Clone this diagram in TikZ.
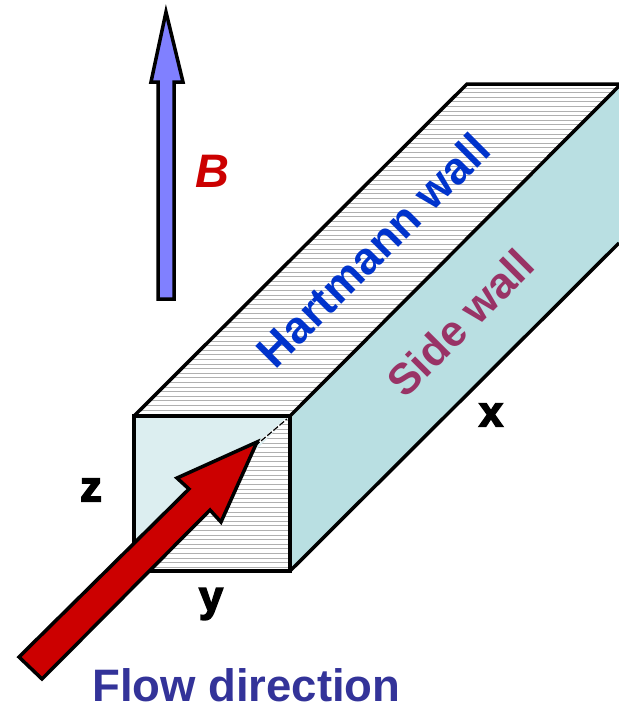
\documentclass[tikz,border=0pt]{standalone}
\usepackage{fontspec}
\setmainfont{Liberation Sans}
\newfontfamily\heavyfont{Liberation Sans}[BoldFeatures={FakeBold=4}]
\definecolor{sidec}{HTML}{B9DFE2}
\definecolor{lightc}{HTML}{DCEEF0}
\definecolor{hatch}{HTML}{B0B0B0}
\definecolor{bluearrow}{HTML}{8080FF}
\definecolor{redc}{HTML}{CC0000}
\definecolor{hartc}{HTML}{0033CC}
\definecolor{sidet}{HTML}{993366}
\definecolor{flowc}{HTML}{333399}
\tikzset{
  edge/.style={draw=black,line width=3.5pt,line join=miter},
  hatchline/.style={draw=hatch,line width=1pt},
  lab/.style={font=\heavyfont\fontsize{43}{43}\selectfont\bfseries,text=black,inner sep=0pt},
  walltext/.style={font=\bfseries,inner sep=0pt,rotate=45,anchor=center}
}
\begin{document}
\begin{tikzpicture}[x=1pt,y=-1pt]
\useasboundingbox (0,0) rectangle (619,705);
% side wall
\fill[sidec] (290,416) -- (619,86) -- (619,243) -- (290,571) -- cycle;
% top wall hatching
\begin{scope}
\clip (134,416) -- (467,84) -- (619,84) -- (290,416) -- cycle;
\foreach \yy in {88,92.6,...,416} \draw[hatchline] (130,\yy) -- (619,\yy);
\end{scope}
% front face
\fill[lightc] (134,416) -- (290,416) -- (134,571) -- cycle;
\begin{scope}
\clip (290,416) -- (290,571) -- (134,571) -- cycle;
\foreach \yy in {420,424.6,...,571} \draw[hatchline] (130,\yy) -- (292,\yy);
\end{scope}
% edges
\draw[edge] (134,416) -- (290,416) -- (290,571) -- (134,571) -- cycle;
\draw[edge] (134,416) -- (467,84) -- (619,84);
\draw[edge] (290,416) -- (619,86);
\draw[edge] (290,571) -- (619,243);
\draw[white,line width=2pt] (255,446) -- (287,419);
\draw[black,line width=1.2pt,dash pattern=on 6pt off 2pt] (255,446) -- (287,419);
% flow arrow
\draw[fill=redc,draw=black,line width=3.5pt,miter limit=6]
  (19,657) -- (189,489) -- (177,478) -- (257,442) -- (221,522) -- (210,510) -- (42,679) -- cycle;
% B arrow
\draw[fill=bluearrow,draw=black,line width=3.5pt,miter limit=8]
  (166,12) -- (183,82) -- (174,82) -- (174,299) -- (158,299) -- (158,82) -- (151,82) -- cycle;
% labels
\node[font=\fontsize{47}{47}\selectfont\bfseries\itshape,text=redc,inner sep=0pt] (b) at (212,171) {B};
\node[walltext,text=hartc] (hw) at (373,250) {\fontsize{45}{45}\selectfont Hartmann wall};
\node[walltext,text=sidet] (sw) at (460,323) {\fontsize{43.5}{44}\selectfont Side wall};
\node[lab] (x) at (491,415) {x};
\node[lab] (y) at (211,604) {y};
\node[lab] (z) at (91,490) {z};
\node[font=\fontsize{45.5}{45.5}\selectfont\bfseries,text=flowc,inner sep=0pt,anchor=base west] (flow) at (92,701) {Flow direction};
\end{tikzpicture}
\end{document}
